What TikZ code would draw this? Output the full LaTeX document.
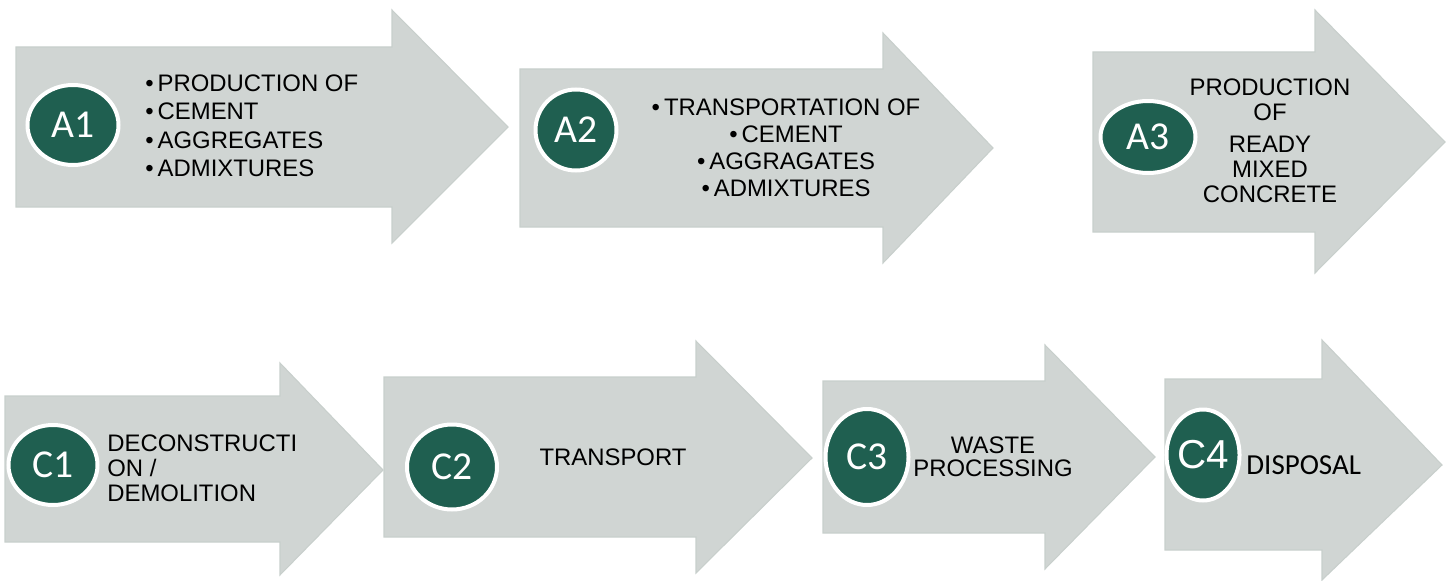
\documentclass[tikz,border=0pt]{standalone}
\usepackage{fontspec}
\setmainfont{Liberation Sans}
\newfontfamily\discfont{Carlito}
\usetikzlibrary{shapes.geometric}

\definecolor{arrowgray}{HTML}{D0D5D3}
\definecolor{arrowedge}{HTML}{C8CFCC}
\definecolor{discgreen}{HTML}{1F5F50}

\newcommand{\px}{0.02cm}
\newcommand{\bodysize}{13.6}

\tikzset{
  stagearrow/.style={fill=arrowgray, draw=arrowedge, line width=0.6pt, line join=miter},
  stagedisc/.style 2 args={ellipse, fill=discgreen, draw=white, line width=4*\px,
    inner sep=0pt, minimum width=#1*\px, minimum height=#2*\px, text=white,
    font=\discfont\fontsize{22.5}{23}\selectfont},
  stagetext/.style={text=black, inner sep=0pt, font=\fontsize{\bodysize}{16}\selectfont},
}

\begin{document}
\begin{tikzpicture}[x=\px, y=-\px]
  \useasboundingbox (0,0) rectangle (1453,581);

  % upper row: A1 - A3
  \coordinate (Ta1) at (16, 47);
  \coordinate (Ba1) at (16, 207);
  \coordinate (Ha1) at (392, 10);
  \coordinate (Ka1) at (392, 243);
  \coordinate (Ea1) at (508, 127);

  \coordinate (Ta2) at (520, 69);
  \coordinate (Ba2) at (520, 227);
  \coordinate (Ha2) at (883, 33);
  \coordinate (Ka2) at (883, 263);
  \coordinate (Ea2) at (993, 148);

  \coordinate (Ta3) at (1093, 52);
  \coordinate (Ba3) at (1093, 232);
  \coordinate (Ha3) at (1315, 10);
  \coordinate (Ka3) at (1315, 273);
  \coordinate (Ea3) at (1445, 142);

  % lower row: C1 - C4
  \coordinate (Tc1) at (5, 396);
  \coordinate (Bc1) at (5, 542);
  \coordinate (Hc1) at (280, 363);
  \coordinate (Kc1) at (280, 575);
  \coordinate (Ec1) at (383, 470);

  \coordinate (Tc2) at (384, 377);
  \coordinate (Bc2) at (384, 537);
  \coordinate (Hc2) at (696, 341);
  \coordinate (Kc2) at (696, 573);
  \coordinate (Ec2) at (812, 458);

  \coordinate (Tc3) at (823, 381);
  \coordinate (Bc3) at (823, 533);
  \coordinate (Hc3) at (1045, 345);
  \coordinate (Kc3) at (1045, 569);
  \coordinate (Ec3) at (1155, 457);

  \coordinate (Tc4) at (1165, 379);
  \coordinate (Bc4) at (1165, 550);
  \coordinate (Hc4) at (1322, 340);
  \coordinate (Kc4) at (1322, 580);
  \coordinate (Ec4) at (1442, 465);

  \foreach \s in {a1, a2, a3, c1, c2, c3, c4}
    \draw [stagearrow] (T\s) -- (H\s |- T\s) -- (H\s) -- (E\s) -- (K\s)
      -- (K\s |- B\s) -- (B\s) -- cycle;

  \node (a1disc) [stagedisc={91}{80}] at (73, 125) {A1};
  \node (a2disc) [stagedisc={81}{81}] at (576, 130) {A2};
  \node (a3disc) [stagedisc={95}{72}] at (1148, 137) {A3};
  \node (c1disc) [stagedisc={89}{80}] at (53, 465) {C1};
  \node (c2disc) [stagedisc={90}{85}] at (452, 467) {C2};
  \node (c3disc) [stagedisc={83}{96}] at (867, 457) {C3};
  \node (c4disc) [stagedisc={72}{91}, font=\fontsize{23}{23}\selectfont] at (1203, 455) {C4};

  \node (a1text) [stagetext, anchor=west, align=left, font=\fontsize{\bodysize}{16.2}\selectfont] at (145, 126)
    {\textbullet\,PRODUCTION OF\\\textbullet\,CEMENT\\\textbullet\,AGGREGATES\\\textbullet\,ADMIXTURES};
  \node (a2text) [stagetext, align=center, font=\fontsize{\bodysize}{15.4}\selectfont] at (786, 148)
    {\textbullet\,TRANSPORTATION OF\\\textbullet\,CEMENT\\\textbullet\,AGGRAGATES\\\textbullet\,ADMIXTURES};
  \node (a3text) [stagetext, align=center, font=\fontsize{\bodysize}{14.2}\selectfont] at (1270, 141)
    {PRODUCTION\\OF\\[4pt]READY\\MIXED\\CONCRETE};

  \node (c1text) [stagetext, anchor=west, align=left, font=\fontsize{\bodysize}{14.2}\selectfont] at (107, 468)
    {DECONSTRUCTI\\ON /\\DEMOLITION};
  \node (c2text) [stagetext] at (613, 457) {TRANSPORT};
  \node (c3text) [stagetext, align=center, font=\fontsize{\bodysize}{13}\selectfont] at (993, 457)
    {WASTE\\PROCESSING};
  \node (c4text) [stagetext, anchor=west, font=\discfont\fontsize{16.5}{17}\selectfont] at (1246, 465) {DISPOSAL};
\end{tikzpicture}
\end{document}
